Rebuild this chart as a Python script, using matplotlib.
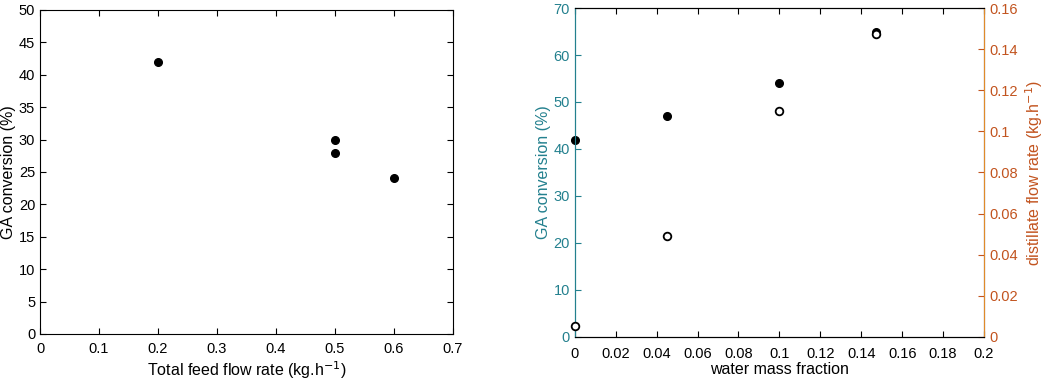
import matplotlib.pyplot as plt

plt.rcParams['font.family'] = ['Liberation Sans', 'DejaVu Sans']

# left panel: GA conversion vs total feed flow
feed_flow = [0.2, 0.5, 0.5, 0.6]
feed_conv = [42, 30, 28, 24]

# right panel: GA conversion and distillate flow vs water mass fraction
water_frac = [0.0, 0.045, 0.1, 0.147]
water_conv = [42, 47, 54, 65]
distillate = [0.0053, 0.049, 0.110, 0.1475]

teal = "#23808e"
orange = "#c2541f"

fig = plt.figure(figsize=(10.45, 3.81), dpi=100)

ax1 = fig.add_axes([0.0383, 0.1234, 0.3952, 0.8506])
ax1.plot(feed_flow, feed_conv, "o", color="black", markersize=5.5)
ax1.set_xlim(0, 0.7)
ax1.set_ylim(0, 50)
ax1.set_xticks([0, 0.1, 0.2, 0.3, 0.4, 0.5, 0.6, 0.7])
ax1.set_xticklabels(["0", "0.1", "0.2", "0.3", "0.4", "0.5", "0.6", "0.7"])
ax1.set_yticks(range(0, 51, 5))
ax1.tick_params(direction="in", top=True, right=True, labelsize=10.5, length=4)
ax1.tick_params(axis="x", pad=6)
ax1.set_xlabel("Total feed flow rate (kg.h$^{-1}$)", fontsize=11.5, labelpad=2)
ax1.set_ylabel("GA conversion (%)", fontsize=11.5, labelpad=2)

ax2 = fig.add_axes([0.550, 0.1155, 0.3916, 0.8635])
ax2.plot(water_frac, water_conv, "o", color="black", markersize=5.5, clip_on=False, zorder=5)
ax2.set_xlim(0, 0.2)
ax2.set_ylim(0, 70)
ax2.set_xticks([0, 0.02, 0.04, 0.06, 0.08, 0.1, 0.12, 0.14, 0.16, 0.18, 0.2])
ax2.set_xticklabels(["0", "0.02", "0.04", "0.06", "0.08", "0.1", "0.12", "0.14",
                     "0.16", "0.18", "0.2"])
ax2.set_yticks(range(0, 71, 10))
ax2.tick_params(axis="x", direction="in", top=True, labelsize=10.5, length=4, pad=7)
ax2.tick_params(axis="y", direction="in", colors=teal, labelsize=10.5, length=4)
ax2.spines["left"].set_color(teal)
ax2.set_xlabel("water mass fraction", fontsize=11.5, labelpad=1)
ax2.set_ylabel("GA conversion (%)", fontsize=11.5, color=teal, labelpad=2)

ax3 = ax2.twinx()
ax3.plot(water_frac, distillate, "o", markerfacecolor="white",
         markeredgecolor="black", markeredgewidth=1.3, markersize=5.5, clip_on=False, zorder=5)
ax3.set_ylim(0, 0.16)
ax3.set_yticks([0, 0.02, 0.04, 0.06, 0.08, 0.1, 0.12, 0.14, 0.16])
ax3.set_yticklabels(["0", "0.02", "0.04", "0.06", "0.08", "0.1", "0.12", "0.14", "0.16"])
ax3.tick_params(axis="y", direction="in", colors=orange, labelsize=10.5, length=4, pad=4)
ax3.spines["right"].set_color("#e08a2a")
ax3.spines["left"].set_color(teal)
ax3.set_ylabel("distillate flow rate (kg.h$^{-1}$)", fontsize=11.5, color=orange, labelpad=4)

fig.savefig("out.png", dpi=100)
